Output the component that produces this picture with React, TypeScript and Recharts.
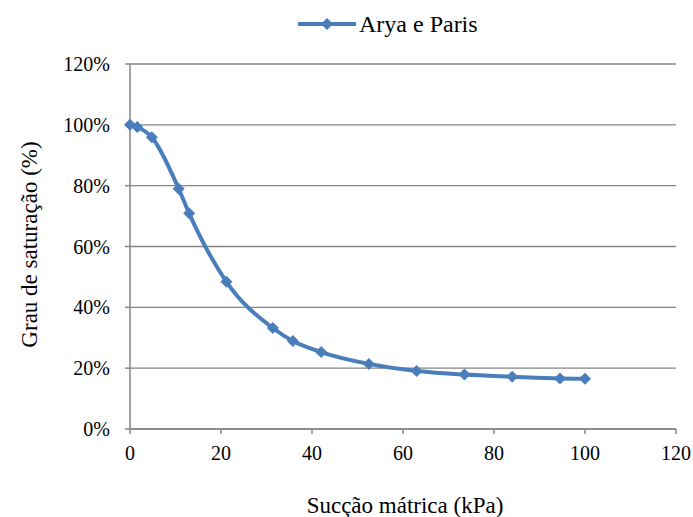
import React from 'react'
import {
  LineChart,
  Line,
  XAxis,
  YAxis,
  CartesianGrid,
  Legend,
} from 'recharts'

// sucção mátrica (kPa)
const suction = [0, 1.6, 4.8, 10.7, 13, 21.2, 31.4, 35.8, 42, 52.5, 63, 73.5, 84, 94.5, 100]
// grau de saturação (%)
const saturation = [100, 99.3, 95.9, 79, 70.9, 48.4, 33.2, 28.9, 25.3, 21.4, 19.1, 17.9, 17.2, 16.6, 16.5]
const xTicks = [0, 20, 40, 60, 80, 100, 120]
const yTicks = [0, 20, 40, 60, 80, 100, 120]
const seriesName = 'Arya e Paris'

const data = suction.map((s, i) => ({ s, sat: saturation[i] }))

const FONT = '"Liberation Serif", "Times New Roman", serif'
const BLUE = '#4A7EBB'
const AXIS = '#868686'

const Diamond = (props: any) => {
  const { cx, cy, index } = props
  if (cx == null || cy == null) return null
  const r = 6
  return (
    <polygon
      key={`d-${index}`}
      points={`${cx},${cy - r} ${cx + r},${cy} ${cx},${cy + r} ${cx - r},${cy}`}
      fill={BLUE}
    />
  )
}

const LegendContent = () => (
  <div style={{ display: 'flex', alignItems: 'center', fontFamily: FONT, fontSize: 24, lineHeight: '28px', color: '#000' }}>
    <svg width={58} height={14}>
      <line x1={0} y1={7} x2={58} y2={7} stroke={BLUE} strokeWidth={4} />
      <polygon points="29,1 35,7 29,13 23,7" fill={BLUE} />
    </svg>
    <span style={{ marginLeft: 3 }}>{seriesName}</span>
  </div>
)

const tickStyle = { fontSize: 20, fill: '#000', fontFamily: FONT }
const titleStyle = { fontSize: 23, fill: '#000', fontFamily: FONT }

export default function App() {
  return (
    <div style={{ position: 'absolute', left: 0, top: 0, background: '#fff' }}>
      <LineChart width={693} height={517} data={data} margin={{ top: 64, right: 17, bottom: 0, left: 0 }}>
        <CartesianGrid vertical={false} stroke={AXIS} strokeWidth={1.3} />
        <XAxis
          dataKey="s"
          type="number"
          domain={[0, 120]}
          ticks={xTicks}
          height={88}
          tickSize={5}
          tickMargin={12}
          stroke={AXIS}
          strokeWidth={1.5}
          tick={tickStyle}
          label={{
            value: 'Sucção mátrica (kPa)',
            position: 'insideBottom',
            offset: 4,
            dx: 2,
            style: titleStyle,
          }}
        />
        <YAxis
          type="number"
          domain={[0, 120]}
          ticks={yTicks}
          width={130}
          tickSize={5}
          tickMargin={15}
          stroke={AXIS}
          strokeWidth={1.5}
          tickFormatter={(v: number) => `${v}%`}
          tick={tickStyle}
          label={{
            value: 'Grau de saturação (%)',
            angle: -90,
            position: 'insideLeft',
            offset: 29,
            dy: -2,
            style: { ...titleStyle, textAnchor: 'middle' },
          }}
        />
        <Legend
          verticalAlign="middle"
          align="center"
          content={<LegendContent />}
          wrapperStyle={{ top: 10, left: 298, width: 'auto' }}
        />
        <Line
          type="monotone"
          dataKey="sat"
          name={seriesName}
          stroke={BLUE}
          strokeWidth={4}
          dot={Diamond}
          activeDot={false}
          isAnimationActive={false}
        />
      </LineChart>
    </div>
  )
}
